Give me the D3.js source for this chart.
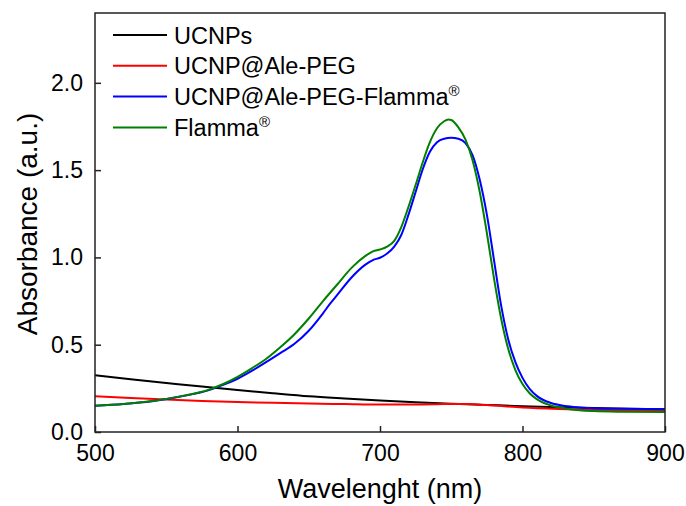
<!DOCTYPE html>
<html>
<head>
<meta charset="utf-8">
<script src="https://cdn.jsdelivr.net/npm/d3@7"></script>
<style>
  html, body { margin: 0; padding: 0; background: #fff; }
  svg { display: block; font-family: "Liberation Sans", Arial, sans-serif; }
</style>
</head>
<body>
<div id="chart"></div>
<script>
// UV-Vis absorbance spectra

const xTicks = [500, 600, 700, 800, 900];
const yTicks = [0.0, 0.5, 1.0, 1.5, 2.0];

const seriesNames = ["UCNPs", "UCNP@Ale-PEG", "UCNP@Ale-PEG-Flamma", "Flamma"];

// UCNPs (black)
const ucnpWl  = [500, 525, 550, 575, 600, 625, 650, 675, 700, 725, 750, 775, 800, 825, 850, 875, 900];
const ucnpAbs = [0.325, 0.302, 0.281, 0.260, 0.240, 0.222, 0.205, 0.192, 0.180, 0.170, 0.162, 0.155, 0.148, 0.142, 0.137, 0.133, 0.130];

// UCNP@Ale-PEG (red)
const pegWl  = [500, 525, 550, 575, 600, 625, 650, 675, 700, 725, 740, 750, 760, 775, 800, 825, 850, 875, 900];
const pegAbs = [0.205, 0.195, 0.186, 0.178, 0.172, 0.167, 0.163, 0.160, 0.157, 0.157, 0.159, 0.161, 0.160, 0.154, 0.140, 0.132, 0.127, 0.123, 0.121];

// UCNP@Ale-PEG-Flamma (blue)
const conjWl  = [500, 520, 540, 560, 580, 590, 600, 610, 620, 630, 640, 650, 660, 665, 670, 680, 690, 695, 700, 705, 710, 715, 720, 725, 730, 735, 740, 745, 750, 755, 760, 765, 770, 775, 780, 785, 790, 795, 800, 805, 810, 820, 830, 840, 850, 870, 900];
const conjAbs = [0.150, 0.160, 0.176, 0.203, 0.240, 0.270, 0.305, 0.350, 0.400, 0.452, 0.505, 0.580, 0.680, 0.735, 0.785, 0.885, 0.960, 0.985, 0.998, 1.022, 1.062, 1.130, 1.245, 1.375, 1.505, 1.605, 1.660, 1.680, 1.685, 1.680, 1.655, 1.585, 1.445, 1.245, 0.985, 0.725, 0.530, 0.400, 0.310, 0.247, 0.207, 0.166, 0.149, 0.141, 0.136, 0.133, 0.131];

// Flamma (green)
const dyeWl  = [500, 520, 540, 560, 580, 590, 600, 610, 620, 630, 640, 650, 660, 670, 680, 690, 695, 700, 705, 710, 715, 720, 725, 730, 735, 740, 745, 748, 750, 755, 760, 765, 770, 775, 780, 785, 790, 795, 800, 805, 810, 820, 830, 840, 850, 870, 900];
const dyeAbs = [0.150, 0.160, 0.177, 0.204, 0.243, 0.275, 0.316, 0.365, 0.418, 0.485, 0.560, 0.650, 0.750, 0.845, 0.940, 1.010, 1.035, 1.045, 1.062, 1.095, 1.175, 1.290, 1.415, 1.545, 1.660, 1.740, 1.780, 1.790, 1.787, 1.745, 1.675, 1.555, 1.375, 1.140, 0.880, 0.650, 0.475, 0.355, 0.275, 0.222, 0.188, 0.152, 0.135, 0.125, 0.120, 0.116, 0.114];

const colors = ["#000000", "#ff0000", "#0000ff", "#008000"];

const series = [
  { name: seriesNames[0], sup: false, wl: ucnpWl, v: ucnpAbs },
  { name: seriesNames[1], sup: false, wl: pegWl,  v: pegAbs },
  { name: seriesNames[2], sup: true,  wl: conjWl, v: conjAbs },
  { name: seriesNames[3], sup: true,  wl: dyeWl,  v: dyeAbs }
];

const width = 686, height = 506;
const margin = {top: 13, right: 21, bottom: 74, left: 95};
const innerW = width - margin.left - margin.right;
const innerH = height - margin.top - margin.bottom;

const svg = d3.select("#chart").append("svg")
  .attr("width", width).attr("height", height);

const g = svg.append("g").attr("transform", `translate(${margin.left},${margin.top})`);

const x = d3.scaleLinear().domain([500, 900]).range([0, innerW]);
const y = d3.scaleLinear().domain([0, 2.4]).range([innerH, 0]);

// curves
const line = d3.line()
  .x(d => x(d[0]))
  .y(d => y(d[1]))
  .curve(d3.curveMonotoneX);

g.append("defs").append("clipPath").attr("id", "clip")
  .append("rect").attr("width", innerW).attr("height", innerH);

g.append("g").attr("clip-path", "url(#clip)")
  .selectAll("path")
  .data(series)
  .join("path")
  .attr("fill", "none")
  .attr("stroke", (d, i) => colors[i])
  .attr("stroke-width", 2)
  .attr("d", d => line(d.wl.map((w, i) => [w, d.v[i]])));

// axes (ticks pointing inward)
const xAxis = g.append("g")
  .attr("transform", `translate(0,${innerH})`)
  .call(d3.axisBottom(x).tickValues(xTicks).tickSizeInner(-6).tickSizeOuter(0).tickPadding(13));

const yAxis = g.append("g")
  .call(d3.axisLeft(y).tickValues(yTicks).tickFormat(d3.format(".1f")).tickSizeInner(-6).tickSizeOuter(0).tickPadding(12));

[xAxis, yAxis].forEach(a => {
  a.select(".domain").remove();
  a.selectAll("line").attr("stroke", "#222").attr("stroke-width", 1.5);
  a.selectAll("text").attr("font-size", 23).attr("fill", "#000")
    .attr("font-family", "'Liberation Sans', Arial, sans-serif");
});

// frame
g.append("rect")
  .attr("width", innerW).attr("height", innerH)
  .attr("fill", "none").attr("stroke", "#222").attr("stroke-width", 1.5);

// axis titles
svg.append("text")
  .attr("x", 380).attr("y", 498)
  .attr("text-anchor", "middle").attr("font-size", 27)
  .text("Wavelenght (nm)");

svg.append("text")
  .attr("transform", "translate(37,224)rotate(-90)")
  .attr("text-anchor", "middle").attr("font-size", 28)
  .text("Absorbance (a.u.)");

// legend
const legend = svg.append("g").attr("transform", "translate(113,35)");
const rows = legend.selectAll("g").data(series).join("g")
  .attr("transform", (d, i) => `translate(0,${i * 30.8})`);

rows.append("line")
  .attr("x1", 0).attr("x2", 54)
  .attr("stroke", (d, i) => colors[i]).attr("stroke-width", 2);

const lt = rows.append("text")
  .attr("x", 61).attr("y", 8.5)
  .attr("font-size", 23.5);
lt.append("tspan").text(d => d.name);
lt.filter(d => d.sup).append("tspan")
  .attr("dy", -9).attr("font-size", 15).text("®");
</script>
</body>
</html>
